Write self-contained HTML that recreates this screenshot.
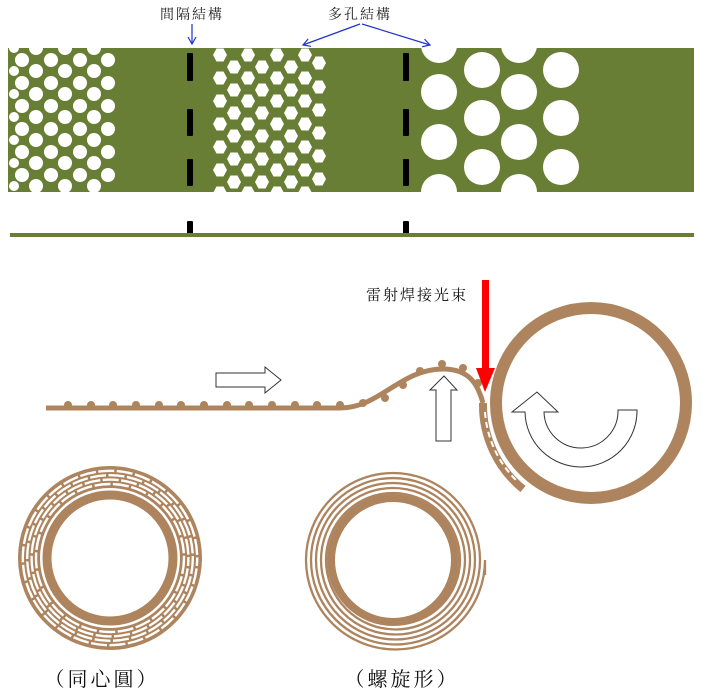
<!DOCTYPE html>
<html><head><meta charset="utf-8"><style>
html,body{margin:0;padding:0;background:#fff}
svg{display:block}
text{font-family:"Liberation Serif","Noto Serif CJK SC","Noto Sans CJK TC",serif}
</style></head><body>
<svg width="708" height="697" viewBox="0 0 708 697" xmlns="http://www.w3.org/2000/svg">
<defs>
<clipPath id="band"><rect x="8" y="48" width="686" height="144"/></clipPath>
<marker id="ba" markerWidth="10" markerHeight="10" refX="8" refY="5" orient="auto" markerUnits="userSpaceOnUse"><path d="M1,1 L8,5 L1,9" fill="none" stroke="#2233cc" stroke-width="1.2"/></marker>
<path id="h" d="M-7,0 L-3.5,-6.5 L3.5,-6.5 L7,0 L3.5,6.5 L-3.5,6.5Z"/>
</defs>
<rect x="8" y="48" width="686" height="144" fill="#687e34"/>
<g clip-path="url(#band)" fill="#fff">
<circle cx="22" cy="60" r="7"/><circle cx="22" cy="83" r="7"/><circle cx="22" cy="106" r="7"/><circle cx="22" cy="129" r="7"/><circle cx="22" cy="152" r="7"/><circle cx="22" cy="175" r="7"/>
<circle cx="36" cy="48" r="7"/><circle cx="36" cy="71" r="7"/><circle cx="36" cy="94" r="7"/><circle cx="36" cy="117" r="7"/><circle cx="36" cy="140" r="7"/><circle cx="36" cy="163" r="7"/><circle cx="36" cy="186" r="7"/>
<circle cx="51" cy="60" r="7"/><circle cx="51" cy="83" r="7"/><circle cx="51" cy="106" r="7"/><circle cx="51" cy="129" r="7"/><circle cx="51" cy="152" r="7"/><circle cx="51" cy="175" r="7"/>
<circle cx="65" cy="48" r="7"/><circle cx="65" cy="71" r="7"/><circle cx="65" cy="94" r="7"/><circle cx="65" cy="117" r="7"/><circle cx="65" cy="140" r="7"/><circle cx="65" cy="163" r="7"/><circle cx="65" cy="186" r="7"/>
<circle cx="80" cy="60" r="7"/><circle cx="80" cy="83" r="7"/><circle cx="80" cy="106" r="7"/><circle cx="80" cy="129" r="7"/><circle cx="80" cy="152" r="7"/><circle cx="80" cy="175" r="7"/>
<circle cx="94" cy="48" r="7"/><circle cx="94" cy="71" r="7"/><circle cx="94" cy="94" r="7"/><circle cx="94" cy="117" r="7"/><circle cx="94" cy="140" r="7"/><circle cx="94" cy="163" r="7"/><circle cx="94" cy="186" r="7"/>
<circle cx="108" cy="60" r="7"/><circle cx="108" cy="83" r="7"/><circle cx="108" cy="106" r="7"/><circle cx="108" cy="129" r="7"/><circle cx="108" cy="152" r="7"/><circle cx="108" cy="175" r="7"/>
<circle cx="14" cy="48" r="5"/><circle cx="14" cy="71" r="5"/><circle cx="14" cy="94" r="5"/><circle cx="14" cy="117" r="5"/><circle cx="14" cy="140" r="5"/><circle cx="14" cy="163" r="5"/><circle cx="14" cy="186" r="5"/>
<g transform="translate(100,100)">
<use href="#h" x="120" y="-45"/><use href="#h" x="120" y="-22"/><use href="#h" x="120" y="1"/><use href="#h" x="120" y="24"/><use href="#h" x="120" y="47"/><use href="#h" x="120" y="70"/><use href="#h" x="120" y="93"/>
<use href="#h" x="134" y="-33"/><use href="#h" x="134" y="-10"/><use href="#h" x="134" y="13"/><use href="#h" x="134" y="36"/><use href="#h" x="134" y="59"/><use href="#h" x="134" y="82"/>
<use href="#h" x="148" y="-45"/><use href="#h" x="148" y="-22"/><use href="#h" x="148" y="1"/><use href="#h" x="148" y="24"/><use href="#h" x="148" y="47"/><use href="#h" x="148" y="70"/><use href="#h" x="148" y="93"/>
<use href="#h" x="162" y="-33"/><use href="#h" x="162" y="-10"/><use href="#h" x="162" y="13"/><use href="#h" x="162" y="36"/><use href="#h" x="162" y="59"/><use href="#h" x="162" y="82"/>
<use href="#h" x="177" y="-45"/><use href="#h" x="177" y="-22"/><use href="#h" x="177" y="1"/><use href="#h" x="177" y="24"/><use href="#h" x="177" y="47"/><use href="#h" x="177" y="70"/><use href="#h" x="177" y="93"/>
<use href="#h" x="191" y="-33"/><use href="#h" x="191" y="-10"/><use href="#h" x="191" y="13"/><use href="#h" x="191" y="36"/><use href="#h" x="191" y="59"/><use href="#h" x="191" y="82"/>
<use href="#h" x="205" y="-45"/><use href="#h" x="205" y="-22"/><use href="#h" x="205" y="1"/><use href="#h" x="205" y="24"/><use href="#h" x="205" y="47"/><use href="#h" x="205" y="70"/><use href="#h" x="205" y="93"/>
<use href="#h" x="219" y="-37"/><use href="#h" x="219" y="-13"/><use href="#h" x="219" y="10"/><use href="#h" x="219" y="33"/><use href="#h" x="219" y="56"/><use href="#h" x="219" y="79"/>
</g>
<circle cx="439" cy="45" r="18"/><circle cx="439" cy="92" r="18"/><circle cx="439" cy="142" r="18"/><circle cx="439" cy="192" r="18"/>
<circle cx="482" cy="70" r="18"/><circle cx="482" cy="118" r="18"/><circle cx="482" cy="167" r="18"/>
<circle cx="519" cy="45" r="18"/><circle cx="519" cy="92" r="18"/><circle cx="519" cy="142" r="18"/><circle cx="519" cy="192" r="18"/>
<circle cx="561" cy="70" r="18"/><circle cx="561" cy="118" r="18"/><circle cx="561" cy="167" r="18"/>
</g>
<g fill="#000">
<rect x="187" y="53" width="6" height="28" rx="1"/><rect x="187" y="109" width="6" height="27" rx="1"/><rect x="187" y="159" width="6" height="27" rx="1"/>
<rect x="403" y="53" width="6" height="28" rx="1"/><rect x="403" y="109" width="6" height="27" rx="1"/><rect x="403" y="159" width="6" height="27" rx="1"/>
<rect x="187" y="221" width="6" height="13" rx="1"/><rect x="403" y="221" width="6" height="13" rx="1"/>
</g>
<rect x="10" y="233" width="684" height="4" fill="#687e34"/>
<text x="192" y="19" font-size="14" letter-spacing="2" text-anchor="middle" fill="#222">間隔結構</text>
<text x="360" y="19" font-size="14" letter-spacing="2" text-anchor="middle" fill="#222">多孔結構</text>
<g stroke="#2233cc" stroke-width="1.2" fill="none">
<line x1="192" y1="24" x2="192" y2="44" marker-end="url(#ba)"/>
<line x1="360" y1="24" x2="303" y2="45" marker-end="url(#ba)"/>
<line x1="362" y1="24" x2="430" y2="45" marker-end="url(#ba)"/>
</g>
<path d="M46,408 L340,408 C380,408 400,369 443,369 C470,369 478,385 483,403" fill="none" stroke="#ad845e" stroke-width="5"/>
<path d="M483,403 A108,108 0 0 0 523,489" fill="none" stroke="#ad845e" stroke-width="8"/>
<path d="M485,412 A106,106 0 0 0 518,482" fill="none" stroke="#fff" stroke-width="2" stroke-dasharray="6 4"/>
<g fill="#ad845e">
<circle cx="68" cy="405" r="4"/><circle cx="91" cy="405" r="4"/><circle cx="113" cy="405" r="4"/><circle cx="136" cy="405" r="4"/><circle cx="159" cy="405" r="4"/><circle cx="181" cy="405" r="4"/><circle cx="204" cy="405" r="4"/><circle cx="227" cy="405" r="4"/><circle cx="249" cy="405" r="4"/><circle cx="272" cy="405" r="4"/><circle cx="295" cy="405" r="4"/><circle cx="317" cy="405" r="4"/><circle cx="340" cy="405" r="4"/>
<circle cx="363" cy="403" r="4"/><circle cx="385" cy="398" r="4"/><circle cx="403" cy="385" r="4"/><circle cx="420" cy="371" r="4"/><circle cx="442" cy="364" r="4"/><circle cx="463" cy="368" r="4"/><circle cx="478" cy="383" r="4"/>
</g>
<circle cx="591" cy="403" r="95" fill="none" stroke="#ad845e" stroke-width="12"/>
<path d="M216,373 L265,373 L265,367 L281,380 L265,393 L265,387 L216,387Z" fill="#fff" stroke="#333" stroke-width="1"/>
<path d="M444,376 L457,390 L451,390 L451,441 L436,441 L436,390 L430,390Z" fill="#fff" stroke="#333" stroke-width="1"/>
<path d="M512,412 L537,392 L558,412 L544,412 A37,37 0 0 0 618,410 L637,410 A56,56 0 0 1 525,412Z" fill="#fff" stroke="#333" stroke-width="1"/>
<rect x="482" y="280" width="7" height="90" fill="#f00"/>
<path d="M476,368 L495,368 L485,392Z" fill="#f00"/>
<text x="366" y="300" font-size="15" letter-spacing="2" fill="#111">雷射焊接光束</text>
<circle cx="110" cy="558" r="81" fill="none" stroke="#ad845e" stroke-width="22"/>
<circle cx="110" cy="558" r="63" fill="none" stroke="#ad845e" stroke-width="9"/>
<g fill="none" stroke="#fff" stroke-width="2.4">
<circle cx="110" cy="558" r="74" stroke-dasharray="16 2.5"/>
<circle cx="110" cy="558" r="78.4" stroke-dasharray="16 2.5" stroke-dashoffset="8"/>
<circle cx="110" cy="558" r="82.8" stroke-dasharray="16 2.5"/>
<circle cx="110" cy="558" r="87.2" stroke-dasharray="16 2.5" stroke-dashoffset="8"/>
</g>
<circle cx="393" cy="560" r="62" fill="none" stroke="#ad845e" stroke-width="8"/>
<path d="M455,560 A62,62 0 0 0 331,560 A64.5,64.5 0 0 0 460,560 A67,67 0 0 0 326,560 A69.5,69.5 0 0 0 465,560 A72,72 0 0 0 321,560 A74.5,74.5 0 0 0 470,560 A77,77 0 0 0 316,560 A79.5,79.5 0 0 0 475,560 A82,82 0 0 0 311,560 A84.5,84.5 0 0 0 480,560 A87,87 0 0 0 306,560 A89.5,89.5 0 0 0 485,560 L485,575" fill="none" stroke="#ad845e" stroke-width="2.3"/>
<text x="102" y="686" font-size="20" letter-spacing="3" text-anchor="middle" fill="#111">（同心圓）</text>
<text x="402" y="686" font-size="20" letter-spacing="3" text-anchor="middle" fill="#111">（螺旋形）</text>
</svg>
</body></html>
